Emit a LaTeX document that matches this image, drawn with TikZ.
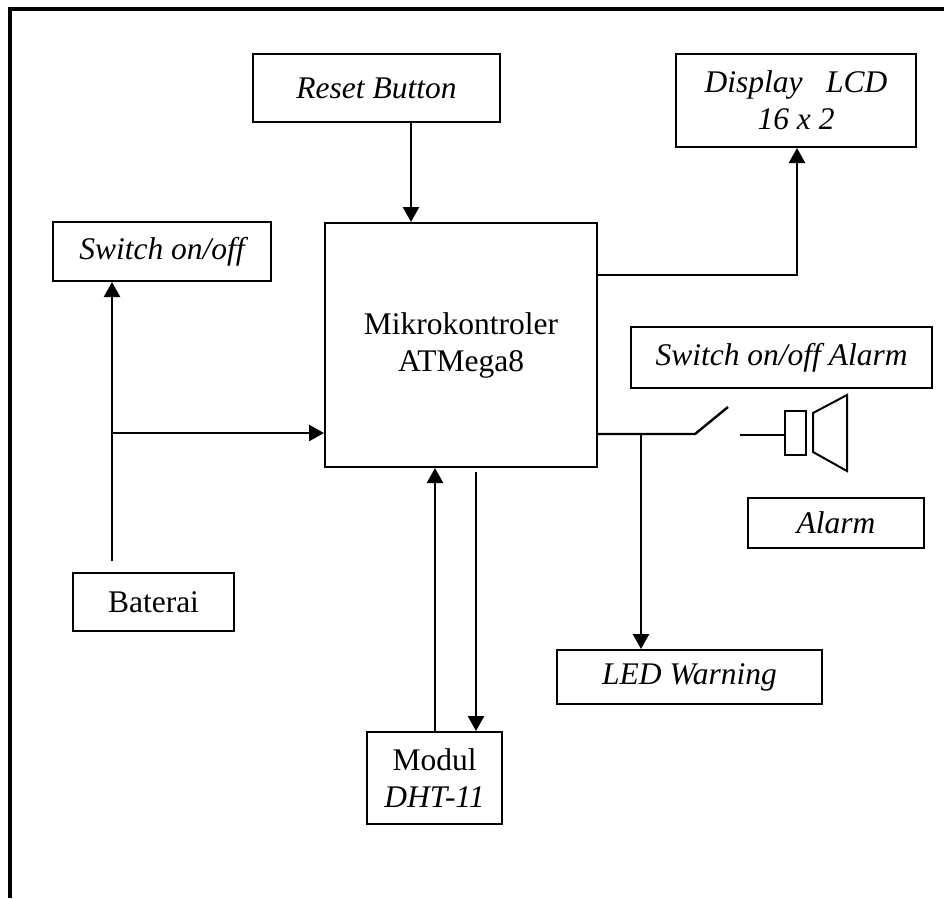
\documentclass[tikz,border=0pt]{standalone}
\usepackage{fontspec}
\setmainfont{Liberation Serif}
\usetikzlibrary{arrows.meta}
\begin{document}
\begin{tikzpicture}[x=1pt,y=-1pt,
  box/.style={draw, line width=2pt, rectangle, inner sep=0pt, align=center,
    font=\fontsize{31.5}{37}\selectfont},
  conn/.style={line width=2.4pt},
  arr/.style={conn, -{Triangle[length=15pt,width=16pt]}}]
\useasboundingbox (0,0) rectangle (944,898);
% outer frame (open to the right and bottom)
\draw[line width=4pt] (10,898) -- (10,9) -- (944,9);
% boxes
\node[box, minimum width=247pt, minimum height=68pt] (reset) at (376.5,88) {\itshape Reset Button};
\node[box, minimum width=240pt, minimum height=93pt] (lcd) at (796,100.5) {\itshape Display\hspace{0.75em}LCD\\ \itshape 16 x 2};
\node[box, minimum width=218pt, minimum height=59pt] (sw) at (162,251.5) {\itshape Switch on/off};
\node[box, minimum width=272pt, minimum height=244pt] (mcu) at (461,345) {Mikrokontroler\\ATMega8};
\node[box, minimum width=301pt, minimum height=61pt] (swa) at (781.5,357.5) {\itshape Switch on/off Alarm};
\node[box, minimum width=176pt, minimum height=50pt] (alarm) at (836,523) {\itshape Alarm};
\node[box, minimum width=161pt, minimum height=58pt] (bat) at (153.5,602) {Baterai};
\node[box, minimum width=265pt, minimum height=54pt] (led) at (689.5,677) {\itshape LED Warning};
\node[box, minimum width=135pt, minimum height=92pt] (dht) at (434.5,778) {Modul\\ \itshape DHT-11};
% speaker
\node[draw, line width=2pt, rectangle, inner sep=0pt, minimum width=21pt, minimum height=44pt] (spk) at (795.5,433) {};
\draw[line width=2pt, line join=miter] (813,413) -- (847,395) -- (847,471) -- (813,452) -- cycle;
% helper coordinates
\coordinate (rx) at (411,0);
\coordinate (ly) at (0,275);
\coordinate (lx) at (797,0);
\coordinate (bx) at (112,0);
\coordinate (j1) at (112,433);
\coordinate (s1) at (695,434);
\coordinate (s2) at (728,407);
\coordinate (s3) at (740,435);
\coordinate (j2) at (641,434);
\coordinate (ux) at (435,0);
\coordinate (dx) at (476,0);
% connectors
\draw[arr] (reset.south -| rx) -- (mcu.north -| rx);
\draw[arr] (mcu.east |- ly) -| (lcd.south -| lx);
\draw[arr, shorten <=11pt] (bat.north -| bx) -- (sw.south -| bx);
\draw[arr] (j1) -- (mcu.west |- j1);
\draw[conn] (mcu.east |- s1) -- (s1) -- (s2);
\draw[conn] (s3) -- (spk.west |- s3);
\draw[arr] (j2) -- (led.north -| j2);
\draw[arr] (dht.north -| ux) -- (mcu.south -| ux);
\draw[arr, shorten <=4pt] (mcu.south -| dx) -- (dht.north -| dx);
\end{tikzpicture}
\end{document}
